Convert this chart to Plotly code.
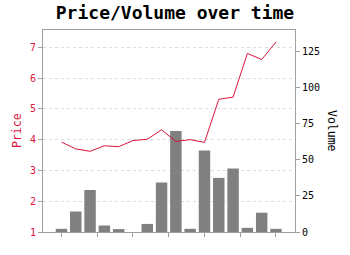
import plotly.graph_objects as go

# ---- data ----
periods = list(range(16))
price = [3.92, 3.70, 3.62, 3.80, 3.77, 3.97, 4.01, 4.32, 3.94, 4.00, 3.91, 5.31, 5.38, 6.80, 6.60, 7.17]
volume = [2.2, 14.2, 29.1, 4.5, 2.0, 0.0, 5.6, 34.3, 70.0, 2.2, 56.4, 37.5, 44.0, 2.9, 13.4, 2.2]
x_tick_vals = [0, 2.5, 5, 7.5, 10, 12.5, 15]
price_ticks = [1, 2, 3, 4, 5, 6, 7]
volume_ticks = [0, 25, 50, 75, 100, 125]

RED = "#dc143c"
MONO = "DejaVu Sans Mono"
AXIS_GRAY = "#a0a0a0"

fig = go.Figure()
fig.add_trace(go.Bar(
    x=periods, y=volume, yaxis="y", width=0.8,
    marker=dict(color="#808080", line=dict(width=0)),
    showlegend=False, hoverinfo="skip",
))
fig.add_trace(go.Scatter(
    x=periods, y=price, yaxis="y2", mode="lines",
    line=dict(color=RED, width=1),
    showlegend=False, hoverinfo="skip",
))

fig.update_layout(
    width=350, height=255,
    margin=dict(l=43, r=55, t=30, b=23, pad=0),
    paper_bgcolor="white", plot_bgcolor="white",
    font=dict(family=MONO, size=10, color="black"),
    title=dict(text="<b>Price/Volume over time</b>", x=0.5, xref="container",
               xanchor="center", y=0.95, yanchor="middle",
               font=dict(family=MONO, size=18, color="black")),
    xaxis=dict(range=[-1.29, 16.33], tickvals=x_tick_vals, showticklabels=False,
               ticks="outside", ticklen=4, tickcolor=AXIS_GRAY,
               showgrid=False, zeroline=False,
               showline=True, linecolor=AXIS_GRAY, linewidth=1, mirror=True),
    yaxis=dict(side="right", range=[0, 140], tickvals=volume_ticks,
               ticks="outside", ticklen=4, tickcolor=AXIS_GRAY,
               tickfont=dict(family=MONO, size=10, color="black"),
               showgrid=False, zeroline=False,
               showline=True, linecolor=AXIS_GRAY, linewidth=1),
    yaxis2=dict(side="left", overlaying="y", range=[1, 7.56], tickvals=price_ticks,
                ticks="outside", ticklen=4, tickcolor=AXIS_GRAY,
                tickfont=dict(family=MONO, size=10, color=RED),
                showgrid=True, gridcolor="#dcdcdc", griddash="3px,3px", gridwidth=1,
                zeroline=False,
                showline=True, linecolor=AXIS_GRAY, linewidth=1),
    annotations=[
        dict(text="Price", xref="paper", yref="paper", x=0, y=0.5,
             xanchor="center", yanchor="middle", xshift=-26, textangle=-90,
             showarrow=False, font=dict(family=MONO, size=11.5, color=RED)),
        dict(text="Volume", xref="paper", yref="paper", x=1, y=0.5,
             xanchor="center", yanchor="middle", xshift=37, textangle=90,
             showarrow=False, font=dict(family=MONO, size=11.5, color="black")),
    ],
)

fig.write_html("out.html")
